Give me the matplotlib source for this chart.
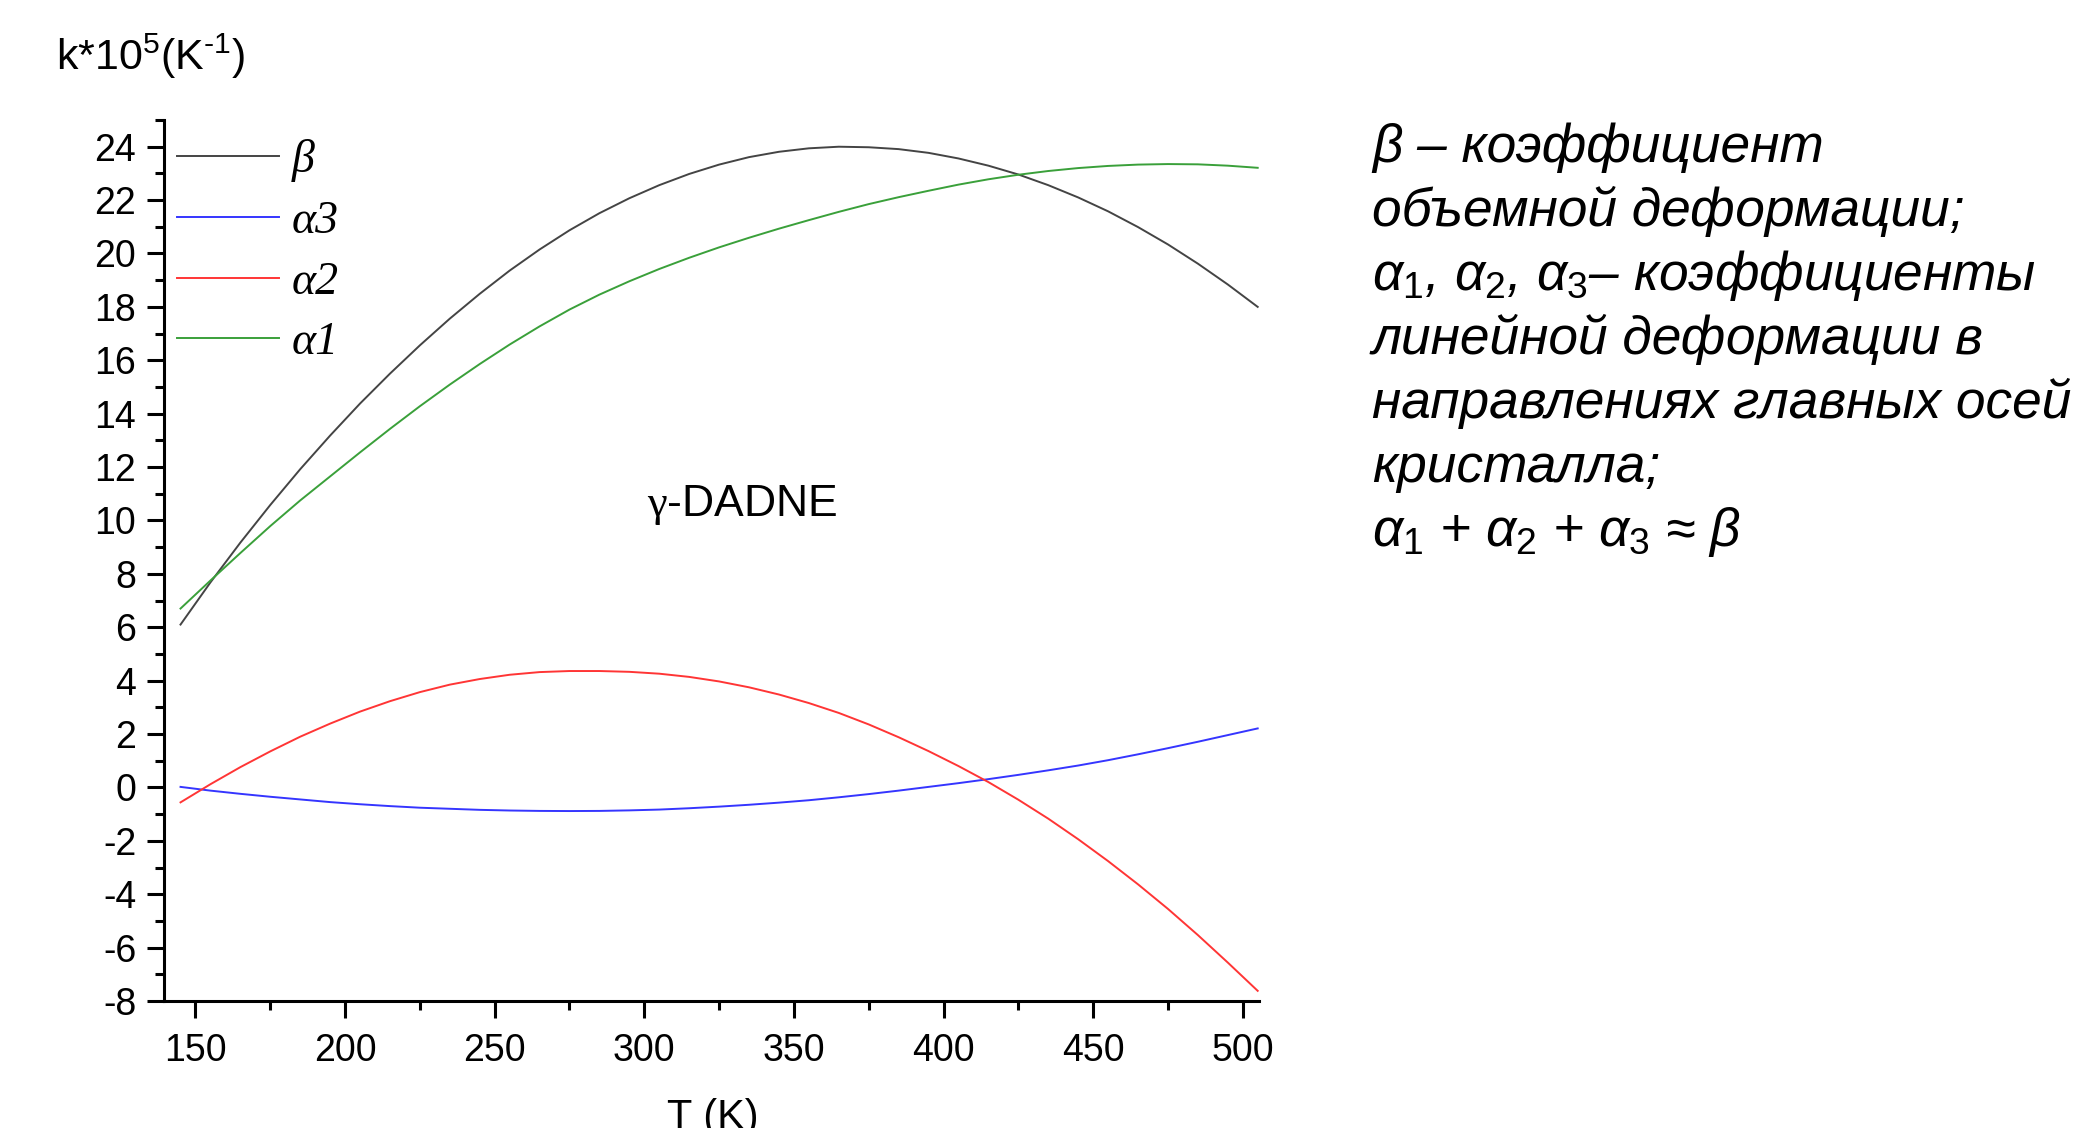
import numpy as np
import matplotlib
matplotlib.use('Agg')
import matplotlib.pyplot as plt
from matplotlib.ticker import MultipleLocator

plt.rcParams['font.family'] = ['Liberation Sans', 'DejaVu Sans']
plt.rcParams['mathtext.fontset'] = 'custom'
plt.rcParams['mathtext.rm'] = 'Liberation Sans'
plt.rcParams['mathtext.it'] = 'Liberation Sans:italic'
plt.rcParams['mathtext.sf'] = 'Liberation Serif'
plt.rcParams['axes.unicode_minus'] = False

# temperature grid (K) and coefficients k*10^5 (1/K)
T = [145, 155, 165, 175, 185, 195, 205, 215, 225, 235, 245, 255, 265,
     275, 285, 295, 305, 315, 325, 335, 345, 355, 365, 375, 385,
     395, 405, 415, 425, 435, 445, 455, 465, 475, 485, 495, 505]
beta = [6.1, 7.68, 9.17, 10.58, 11.92, 13.18, 14.38, 15.5, 16.56, 17.56, 18.49, 19.36, 20.15,
        20.87, 21.51, 22.07, 22.56, 22.98, 23.33, 23.61, 23.81, 23.94, 24.0, 23.98, 23.91,
        23.77, 23.56, 23.29, 22.96, 22.56, 22.1, 21.58, 20.99, 20.34, 19.62, 18.84, 18.0]
alpha3 = [0.02, -0.12, -0.24, -0.35, -0.45, -0.55, -0.63, -0.7, -0.76, -0.8, -0.84, -0.865, -0.88,
          -0.885, -0.88, -0.86, -0.83, -0.78, -0.72, -0.65, -0.57, -0.48, -0.37, -0.25, -0.12,
          0.02, 0.16, 0.31, 0.47, 0.64, 0.82, 1.02, 1.24, 1.47, 1.71, 1.96, 2.21]
alpha2 = [-0.56, 0.12, 0.76, 1.35, 1.9, 2.39, 2.84, 3.23, 3.57, 3.85, 4.06, 4.22, 4.32,
          4.36, 4.36, 4.33, 4.26, 4.14, 3.97, 3.75, 3.48, 3.16, 2.79, 2.36, 1.88,
          1.36, 0.8, 0.2, -0.46, -1.17, -1.94, -2.76, -3.63, -4.55, -5.53, -6.56, -7.62]
alpha1 = [6.7, 7.75, 8.78, 9.79, 10.75, 11.65, 12.55, 13.43, 14.28, 15.09, 15.86, 16.59, 17.27,
          17.9, 18.46, 18.96, 19.42, 19.84, 20.23, 20.59, 20.93, 21.25, 21.56, 21.85, 22.11,
          22.35, 22.58, 22.78, 22.95, 23.09, 23.2, 23.28, 23.33, 23.35, 23.34, 23.29, 23.21]

fig = plt.figure(figsize=(20.82, 11.28), dpi=100)
ax = fig.add_axes([0.0788, 0.1126, 0.526, 0.781])

ax.plot(T, beta, color='#444444', lw=1.4, label='β')
ax.plot(T, alpha3, color='#3535ff', lw=1.4, label='α3')
ax.plot(T, alpha2, color='#ff3535', lw=1.4, label='α2')
ax.plot(T, alpha1, color='#3aa03a', lw=1.4, label='α1')

ax.set_xlim(139.5, 505.5)
ax.set_ylim(-8, 25)
ax.xaxis.set_major_locator(MultipleLocator(50))
ax.xaxis.set_minor_locator(MultipleLocator(25))
ax.yaxis.set_major_locator(MultipleLocator(2))
ax.yaxis.set_minor_locator(MultipleLocator(1))
for s in ['top', 'right']:
    ax.spines[s].set_visible(False)
for s in ['left', 'bottom']:
    ax.spines[s].set_linewidth(2.2)
ax.tick_params(which='major', direction='out', length=12, width=2.2, labelsize=27)
ax.tick_params(axis='x', which='major', pad=11)
ax.tick_params(axis='y', which='major', pad=8)
ax.tick_params(which='minor', direction='out', length=6.5, width=2.2)

leg = ax.legend(loc='upper left', bbox_to_anchor=(177 / 2082, 1 - 139 / 1128),
                bbox_transform=fig.transFigure, frameon=False, borderpad=0, borderaxespad=0,
                handlelength=2.23, handletextpad=0.28, labelspacing=0.4,
                prop={'family': 'Liberation Serif', 'style': 'italic', 'size': 33})

ax.text(0.441, 0.563, r'$\mathsf{\gamma}$-DADNE', transform=ax.transAxes,
        fontsize=32, va='center')

fig.text(56 / 2082, 1 - 56 / 1128, r'k*10$^5$(K$^{\text{-}1}$)', fontsize=31, va='center')
fig.text(713 / 2082, 1 - 1098 / 1128, 'T (K)', fontsize=30, ha='center', va='top')

lines = [
    'β – коэффициент',
    'объемной деформации;',
    r'$\mathit{\alpha}_\mathit{1}$, $\mathit{\alpha}_\mathit{2}$, $\mathit{\alpha}_\mathit{3}$– коэффициенты',
    'линейной деформации в',
    'направлениях главных осей',
    'кристалла;',
    r'$\mathit{\alpha}_\mathit{1}$ + $\mathit{\alpha}_\mathit{2}$ + $\mathit{\alpha}_\mathit{3}$ ≈ β',
]
for i, s in enumerate(lines):
    fig.text(1372 / 2082, 1 - (162 + 64 * i) / 1128, s, fontsize=38.3, style='italic',
             va='baseline')

fig.savefig('out.png', dpi=100)
